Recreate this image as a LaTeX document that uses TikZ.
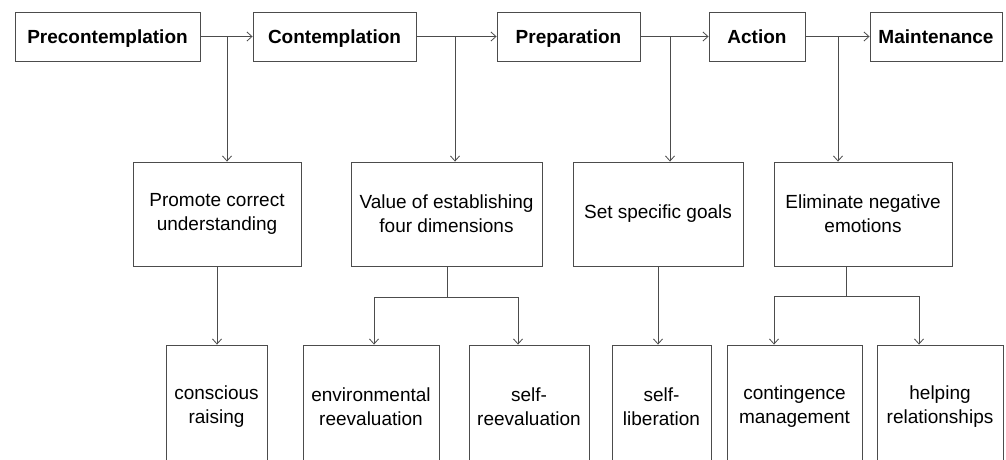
\documentclass[tikz,border=0pt]{standalone}
\usepackage{fontspec}
\setmainfont{Liberation Sans}
\usetikzlibrary{arrows.meta}
\begin{document}
\begin{tikzpicture}[x=1pt,y=-1pt,
  line/.style={draw=black!70, line width=0.9pt},
  arr/.style={line, -{Straight Barb[length=5pt,width=9pt,line width=0.8pt]}},
  box/.style={draw=black!70, line width=0.9pt, inner sep=0pt, align=center,
    font=\fontsize{19}{24}\selectfont, text=black},
  topbox/.style={box, minimum height=49pt, text height=13.7pt, text depth=0pt,
    font=\fontsize{19}{24}\selectfont\bfseries},
  midbox/.style={box, minimum height=104pt},
  lowbox/.style={box, minimum height=123pt}]
\useasboundingbox (0,0) rectangle (1006,459);
\clip (0,0) rectangle (1006,459);
% top row
\node[topbox, minimum width=185pt] (pre)  at (107.5,36.5) {Precontemplation};
\node[topbox, minimum width=163pt] (con)  at (334.5,36.5) {Contemplation};
\node[topbox, minimum width=143pt] (prep) at (568.5,36.5) {Preparation};
\node[topbox, minimum width=96pt]  (act)  at (757,36.5)   {Action};
\node[topbox, minimum width=132pt] (main) at (936,36.5)   {Maintenance};
% middle row
\node[midbox, minimum width=168pt] (prom) at (217,214)   {Promote correct\\understanding};
\node[midbox, minimum width=191pt] (val)  at (446.5,214) {Value of establishing\\four dimensions};
\node[midbox, minimum width=170pt] (set)  at (658,214)   {Set specific goals};
\node[midbox, minimum width=178pt] (elim) at (863,214)   {Eliminate negative\\emotions};
% bottom row
\node[lowbox, minimum width=101pt] (cr)  at (216.5,406.5) {conscious\\raising};
\node[lowbox, minimum width=136pt] (env) at (371,406.5)   {environmental\\reevaluation};
\node[lowbox, minimum width=120pt] (sre) at (529,406.5)   {self-\\reevaluation};
\node[lowbox, minimum width=99pt]  (sl)  at (661.5,406.5) {self-\\liberation};
\node[lowbox, minimum width=135pt] (cm)  at (794.5,406.5) {contingence\\management};
\node[lowbox, minimum width=126pt] (hr)  at (940,406.5)   {helping\\relationships};
% top connectors
\draw[arr] (pre) -- (con);
\draw[arr] (con) -- (prep);
\draw[arr] (prep) -- (act);
\draw[arr] (act) -- (main);
\coordinate (b1) at (227,36.5);
\coordinate (b2) at (455,36.5);
\coordinate (b3) at (670,36.5);
\coordinate (b4) at (838,36.5);
\draw[arr] (b1) -- (b1 |- prom.north);
\draw[arr] (b2) -- (b2 |- val.north);
\draw[arr] (b3) -- (b3 |- set.north);
\draw[arr] (b4) -- (b4 |- elim.north);
% lower connectors
\draw[arr] (prom.south) -- (prom.south |- cr.north);
\draw[arr] (set.south) -- (set.south |- sl.north);
\coordinate (v0) at (447,266);
\coordinate (v1) at (447,297);
\coordinate (vl) at (374,297);
\coordinate (vr) at (518,297);
\draw[line] (v0) -- (v1);
\draw[line] (vl) -- (vr);
\draw[arr] (vl) -- (vl |- env.north);
\draw[arr] (vr) -- (vr |- sre.north);
\coordinate (e0) at (846,266);
\coordinate (e1) at (846,296);
\coordinate (el) at (774,296);
\coordinate (er) at (919,296);
\draw[line] (e0) -- (e1);
\draw[line] (el) -- (er);
\draw[arr] (el) -- (el |- cm.north);
\draw[arr] (er) -- (er |- hr.north);
\end{tikzpicture}
\end{document}
